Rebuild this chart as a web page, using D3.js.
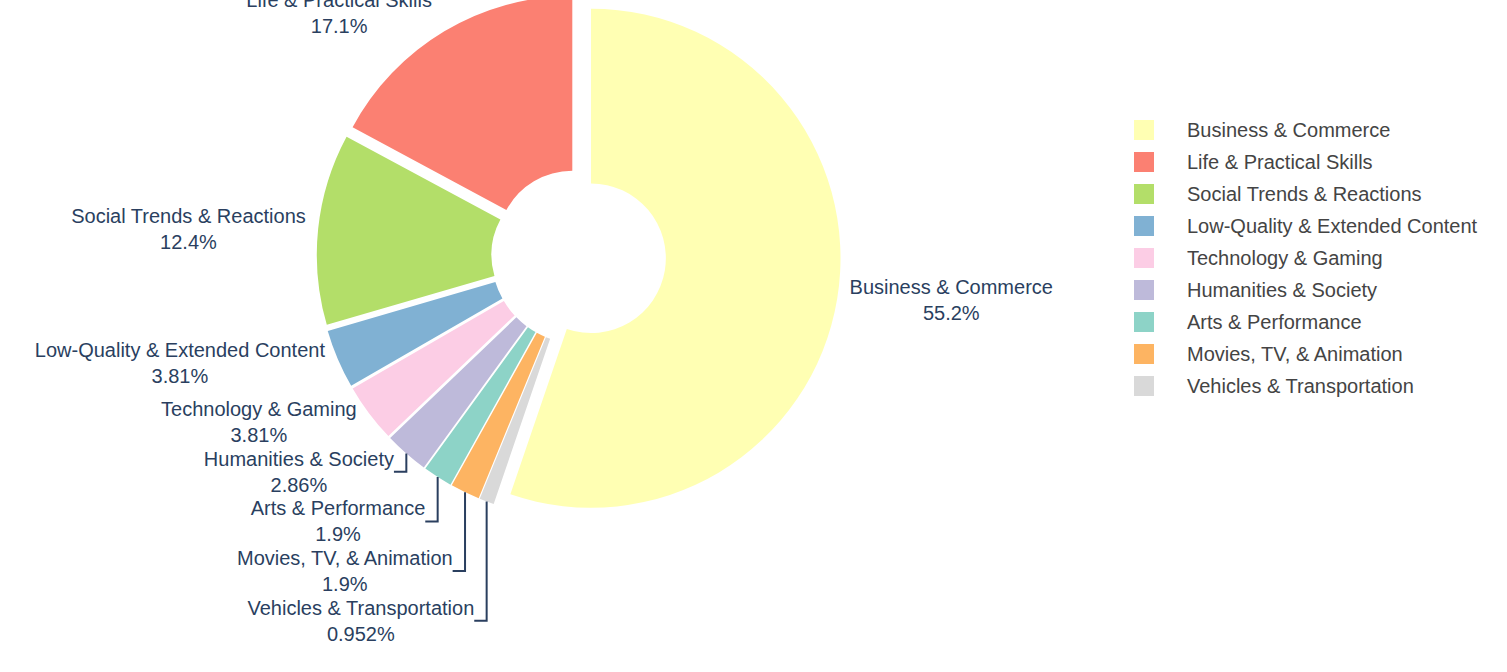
<!DOCTYPE html>
<meta charset="utf-8">

<script src="https://d3js.org/d3.v7.min.js"></script>

<style type="text/css">

body {
  margin: 0;
  background: white;
}

text {
  font-family: "Liberation Sans", Arial, sans-serif;
}

.sliceLabel {
  font-size: 20px;
  fill: #2a3f5f;
}

.textLine {
  fill: none;
  stroke: #2a3f5f;
  stroke-width: 2;
}

.legendText {
  font-size: 20px;
  fill: #444;
}

</style>

<body>
</body>

<script>

  // DATA
  const categories = [
    "Business & Commerce",
    "Life & Practical Skills",
    "Social Trends & Reactions",
    "Low-Quality & Extended Content",
    "Technology & Gaming",
    "Humanities & Society",
    "Arts & Performance",
    "Movies, TV, & Animation",
    "Vehicles & Transportation"
  ]
  const counts = [58, 18, 13, 4, 4, 3, 2, 2, 1]
  const colors = ["#ffffb3", "#fb8072", "#b3de69", "#80b1d3", "#fccde5",
                  "#bebada", "#8dd3c7", "#fdb462", "#d9d9d9"]

  // LAYOUT
  const outerWidth = 1507
  const outerHeight = 672
  const centerX = 578.7
  const centerY = 256.2
  const radius = 249.5
  const hole = 0.3
  const pull = 0.05
  const lineHeight = 1.3
  const labelBoxPad = 1.6   // label boxes a bit taller than the glyphs

  const legendX = 1134
  const legendY = 130
  const legendRow = 32
  const swatchSize = 20
  const legendTextX = 1187

  const total = d3.sum(counts)
  const pctFormat = d3.format(".3~p")

  const SVG = d3.select("body").append("svg")
    .attr("width", outerWidth)
    .attr("height", outerHeight)

  // ---------------------------//
  //         SLICES             //
  // ---------------------------//

  // first slice ends at 12 o'clock, the rest go counterclockwise
  const startAngle = 2 * Math.PI * counts[0] / total

  const pie = d3.pie()
    .sort(null)
    .value(d => d)
    .startAngle(startAngle)
    .endAngle(startAngle - 2 * Math.PI)

  const arc = d3.arc()
    .innerRadius(radius * hole)
    .outerRadius(radius)

  const pts = pie(counts).map((d, i) => {
    const mid = (d.startAngle + d.endAngle) / 2
    const px = radius * Math.sin(mid)
    const py = -radius * Math.cos(mid)
    return {
      arc: d,
      i: i,
      pxmid: [px, py],
      cxFinal: centerX + pull * px,
      cyFinal: centerY + pull * py
    }
  })

  SVG.selectAll(".slice")
    .data(pts)
    .enter().append("path")
      .attr("class", "slice")
      .attr("transform", d => `translate(${d.cxFinal},${d.cyFinal})`)
      .attr("d", d => arc(d.arc))
      .style("fill", d => colors[d.i])

  // ---------------------------//
  //         LABELS             //
  // ---------------------------//

  const labels = SVG.selectAll(".sliceLabel")
    .data(pts)
    .enter().append("text")
      .attr("class", "sliceLabel")
      .attr("text-anchor", "middle")

  labels.append("tspan")
    .attr("x", 0)
    .attr("dy", 0)
    .text(d => categories[d.i])

  labels.append("tspan")
    .attr("x", 0)
    .attr("dy", lineHeight + "em")
    .text(d => pctFormat(counts[d.i] / total))

  // natural position: text box corner touching the slice edge
  labels.each(function(d) {
    const bb = this.getBBox()
    d.bb = bb
    const h = bb.height + labelBoxPad
    const x = d.pxmid[0], y = d.pxmid[1]
    let dx = bb.width / 2
    let dy = h / 2
    if (x < 0) dx *= -1
    if (y < 0) dy *= -1
    d.tx = d.cxFinal + x + dx + Math.abs(dy) * (dx > 0 ? 1 : -1) / 2
    d.ty = d.cyFinal + y + dy / (1 + x * x / (y * y))
    d.yLabelMin = d.ty - h / 2
    d.yLabelMid = d.ty
    d.yLabelMax = d.ty + h / 2
    d.labelExtraY = 0
  })

  // push overlapping labels away from the equator
  const quadrants = [[[], []], [[], []]]
  pts.forEach(d => {
    quadrants[d.pxmid[1] < 0 ? 0 : 1][d.pxmid[0] < 0 ? 0 : 1].push(d)
  })

  for (let yHalf = 0; yHalf < 2; yHalf++) {
    const yDiffSign = yHalf ? 1 : -1
    for (let xHalf = 0; xHalf < 2; xHalf++) {
      const thisQuad = quadrants[yHalf][xHalf]
      thisQuad.sort(yHalf ? (a, b) => a.pxmid[1] - b.pxmid[1]
                          : (a, b) => b.pxmid[1] - a.pxmid[1])
      const oppositeQuad = quadrants[1 - yHalf][xHalf]
      const firstOpposite = yHalf && oppositeQuad.length ? oppositeQuad[0] : null

      thisQuad.forEach((pt, i) => {
        let prev = i ? thisQuad[i - 1] : firstOpposite
        if (!prev) return
        const prevOuterY = prev.labelExtraY + (yHalf ? prev.yLabelMax : prev.yLabelMin)
        const thisInnerY = yHalf ? pt.yLabelMin : pt.yLabelMax
        const newExtraY = prevOuterY - thisInnerY
        if (newExtraY * yDiffSign > 0) pt.labelExtraY = newExtraY
      })
    }
  }

  labels.attr("transform", d => {
    const bb = d.bb
    return `translate(${d.tx - (bb.x + bb.width / 2)},${d.ty + d.labelExtraY - (bb.y + bb.height / 2)})`
  })

  // connector lines for labels that were moved
  SVG.selectAll(".textLine")
    .data(pts.filter(d => d.labelExtraY))
    .enter().append("path")
      .attr("class", "textLine")
      .attr("d", d => {
        const x0 = d.cxFinal + d.pxmid[0]
        const y0 = d.cyFinal + d.pxmid[1]
        const finalX = (d.yLabelMax - d.yLabelMin) * (d.pxmid[0] < 0 ? -1 : 1) / 4
        return `M${x0},${y0}V${d.yLabelMid + d.labelExtraY}h${finalX}`
      })

  // ---------------------------//
  //         LEGEND             //
  // ---------------------------//

  const legend = SVG.selectAll(".legendItem")
    .data(categories)
    .enter().append("g")
      .attr("class", "legendItem")
      .attr("transform", (d, i) => `translate(0,${legendY + i * legendRow})`)

  legend.append("rect")
    .attr("x", legendX)
    .attr("y", -swatchSize / 2)
    .attr("width", swatchSize)
    .attr("height", swatchSize)
    .style("fill", (d, i) => colors[i])

  legend.append("text")
    .attr("class", "legendText")
    .attr("x", legendTextX)
    .attr("y", 0)
    .attr("dy", "0.35em")
    .text(d => d)

</script>
